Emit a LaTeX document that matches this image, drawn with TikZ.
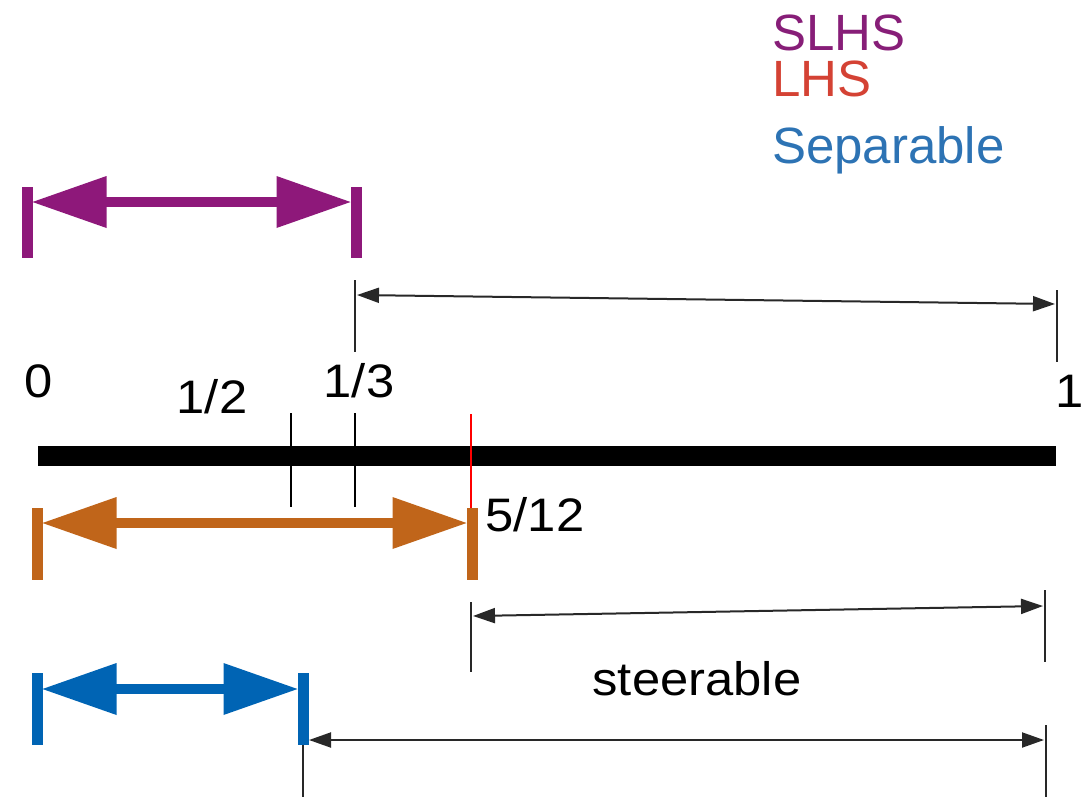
\documentclass[tikz,border=0pt]{standalone}
\usepackage{fontspec}
\setmainfont{Liberation Sans}
\usetikzlibrary{arrows.meta,calc}
\definecolor{cslhs}{RGB}{142,24,122}
\definecolor{clhs}{RGB}{192,101,26}
\definecolor{csep}{RGB}{0,100,180}
\definecolor{lslhs}{RGB}{135,30,120}
\definecolor{llhs}{RGB}{212,66,52}
\definecolor{lsep}{RGB}{45,115,180}
\definecolor{thin}{RGB}{40,40,40}
\newcommand{\rangebar}[7]{%
  \coordinate (#1-l) at (#3,#7);
  \coordinate (#1-r) at (#4,#7);
  \draw[#2, line width=11] (#3,#5) -- (#3,#6);
  \draw[#2, line width=11] (#4,#5) -- (#4,#6);
  \fill[#2] ($(#1-l)+(5.5,0)$) -- ++(74,-26) -- ++(0,52) -- cycle;
  \fill[#2] ($(#1-r)+(-5.5,0)$) -- ++(-74,-26) -- ++(0,52) -- cycle;
  \draw[#2, line width=10.5] ($(#1-l)+(70,0)$) -- ($(#1-r)+(-70,0)$);
}
\begin{document}
\begin{tikzpicture}[x=1pt,y=-1pt,
  lbl/.style={font=\fontsize{47}{47}\selectfont, inner sep=0pt, anchor=base, xscale=1.08},
  leg/.style={font=\fontsize{51}{51}\selectfont, inner sep=0pt, anchor=base west},
  vline/.style={draw=thin, line width=2},
  dim/.style={draw=thin, line width=2, {Triangle[length=22pt 0 0,width=15pt 0 0]}-{Triangle[length=22pt 0 0,width=15pt 0 0]}},
  tick/.style={draw=black, line width=2}]
\useasboundingbox (0,0) rectangle (1084,798);
% legend
\node[leg, text=lslhs] (lgA) at (772,50) {SLHS};
\node[leg, text=llhs] (lgB) at (772,96) {LHS};
\node[leg, text=lsep] (lgC) at (772,163) {Separable};
% main axis
\coordinate (ax0) at (38,456);
\coordinate (ax1) at (1056,456);
\draw[line width=20] (ax0) -- (ax1);
% ticks
\draw[tick] (291,413) coordinate (th1) -- (291,507) coordinate (th2);
\draw[tick] (355,413) coordinate (tt1) -- (355,507) coordinate (tt2);
\draw[red, line width=1.5] (471,414) coordinate (tr1) -- (471,510) coordinate (tr2);
% labels
\node[lbl] (n0) at (39,397) {0};
\node[lbl] (nhalf) at (212,413) {1/2};
\node[lbl] (nthird) at (359,397) {1/3};
\node[lbl] (none) at (1070,407) {1};
\node[lbl] (nfive) at (535,531) {5/12};
\node[lbl] (nsteer) at (697,695) {steerable};
% thick ranges
\rangebar{slhs}{cslhs}{27}{356}{187}{258}{202}
\rangebar{lhs}{clhs}{37}{472}{508}{580}{523}
\rangebar{sep}{csep}{37}{303}{673}{745}{689}
% thin dimension arrows
\draw[vline] (355,280) coordinate (va1) -- (355,352) coordinate (va2);
\draw[vline] (1057,290) coordinate (vb1) -- (1057,362) coordinate (vb2);
\coordinate (da1) at (357,295);
\coordinate (da2) at (1055,304);
\draw[dim] (da1) -- (da2);
\draw[vline] (471,602) coordinate (vc1) -- (471,672) coordinate (vc2);
\draw[vline] (1045,590) coordinate (vd1) -- (1045,662) coordinate (vd2);
\coordinate (db1) at (473,616);
\coordinate (db2) at (1043,606);
\draw[dim] (db1) -- (db2);
\draw[vline] (303,745) coordinate (ve1) -- (303,797) coordinate (ve2);
\draw[vline] (1046,725) coordinate (vf1) -- (1046,797) coordinate (vf2);
\coordinate (dc1) at (309,740);
\coordinate (dc2) at (1044,740);
\draw[dim] (dc1) -- (dc2);
\end{tikzpicture}
\end{document}
